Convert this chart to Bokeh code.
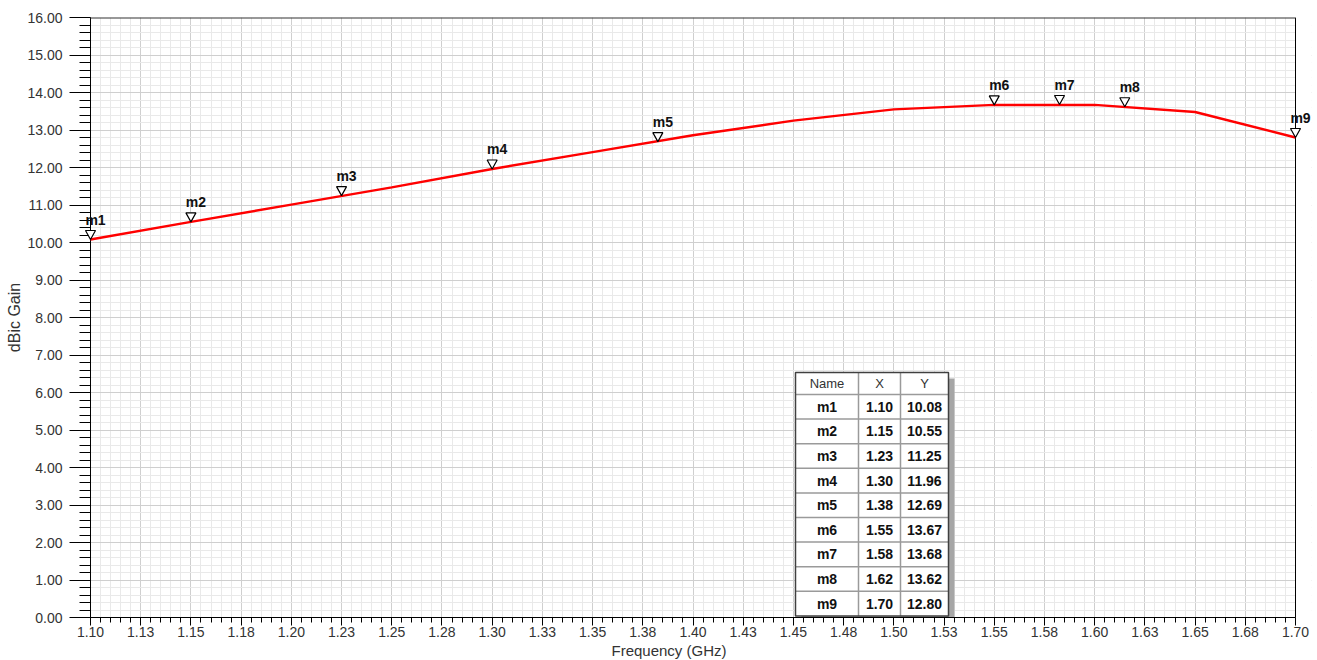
from bokeh.plotting import figure
from bokeh.models import Range1d, FixedTicker, Label, PolyAnnotation, Title
from bokeh.core.properties import value
from bokeh.embed import file_html
from bokeh.resources import INLINE

# ---- data ----
freq = [1.10, 1.15, 1.20, 1.25, 1.30, 1.35, 1.40, 1.45, 1.50, 1.55, 1.60, 1.65, 1.70]
gain = [10.08, 10.55, 11.01, 11.47, 11.96, 12.41, 12.86, 13.25, 13.55, 13.67, 13.67, 13.48, 12.80]

marker_names = ["m1", "m2", "m3", "m4", "m5", "m6", "m7", "m8", "m9"]
marker_x = [1.10, 1.15, 1.225, 1.30, 1.3825, 1.55, 1.5825, 1.615, 1.70]
marker_y = [10.08, 10.55, 11.25, 11.96, 12.69, 13.67, 13.68, 13.62, 12.80]
table_x = ["1.10", "1.15", "1.23", "1.30", "1.38", "1.55", "1.58", "1.62", "1.70"]
table_y = ["10.08", "10.55", "11.25", "11.96", "12.69", "13.67", "13.68", "13.62", "12.80"]

xtick_labels = ["1.10", "1.13", "1.15", "1.18", "1.20", "1.23", "1.25", "1.28", "1.30",
                "1.33", "1.35", "1.38", "1.40", "1.43", "1.45", "1.48", "1.50", "1.53",
                "1.55", "1.58", "1.60", "1.63", "1.65", "1.68", "1.70"]
ytick_labels = ["0.00", "1.00", "2.00", "3.00", "4.00", "5.00", "6.00", "7.00", "8.00",
                "9.00", "10.00", "11.00", "12.00", "13.00", "14.00", "15.00", "16.00"]
x_title = "Frequency (GHz)"
y_title = "dBic Gain"

X0, X1 = 1.10, 1.70
Y0, Y1 = 0.0, 16.0
FONT = "Liberation Sans"

# ---- layout (pixels) ----
W, H = 1317, 660
PLOT_L, PLOT_R = 90, 1295          # drawn plot box
PAD_L, PAD_R = 10, 16              # extra frame room so edge markers are not clipped
BT, BB = 17, 43
BL = PLOT_L - PAD_L
BR = W - (PLOT_R + PAD_R)
ppx = (PLOT_R - PLOT_L) / (X1 - X0)
ppy = (H - BT - BB) / (Y1 - Y0)
XS, XE = X0 - PAD_L / ppx, X1 + PAD_R / ppx

xticks = [round(X0 + 0.025 * i, 4) for i in range(len(xtick_labels))]
xminor = [round(X0 + 0.005 * i, 4) for i in range(121)]
yticks = [float(i) for i in range(len(ytick_labels))]
yminor = [round(0.2 * i, 2) for i in range(81)]

p = figure(width=W, height=H, x_range=Range1d(XS, XE), y_range=Range1d(Y0, Y1),
           output_backend="svg", toolbar_location=None,
           min_border_left=BL, min_border_right=BR, min_border_top=BT, min_border_bottom=BB)
p.background_fill_color = "white"
p.border_fill_color = "white"
p.outline_line_color = None

# axes
p.xaxis.ticker = FixedTicker(ticks=xticks, minor_ticks=xminor)
p.xaxis.major_label_overrides = {t: l for t, l in zip(xticks, xtick_labels)}
p.xaxis.bounds = (X0, X1)
p.yaxis.ticker = FixedTicker(ticks=yticks, minor_ticks=yminor)
p.yaxis.major_label_overrides = {t: l for t, l in zip(yticks, ytick_labels)}

for ax in (p.xaxis[0], p.yaxis[0]):
    ax.axis_line_color = "black"
    ax.major_tick_line_color = "black"
    ax.minor_tick_line_color = "black"
    ax.major_label_text_font = FONT
    ax.major_label_text_font_size = "14px"
    ax.major_label_text_color = "#333333"

p.xaxis.major_tick_in = 0
p.xaxis.minor_tick_in = 0
p.xaxis.major_tick_out = 8
p.xaxis.minor_tick_out = 5
p.xaxis.major_label_standoff = 1

# y axis sits at the frame edge; ticks reach across the padding to the plot box
p.yaxis.axis_line_color = None
p.yaxis.major_tick_in = PAD_L
p.yaxis.major_tick_out = 11
p.yaxis.minor_tick_in = PAD_L
p.yaxis.minor_tick_out = 1
p.yaxis.major_label_standoff = 7

# axis titles
p.add_layout(Title(text=x_title, align="left", offset=531, standoff=0,
                   text_font=FONT, text_font_size="15px", text_font_style="normal",
                   text_color="#333333"), "below")
p.add_layout(Title(text=y_title, align="center", offset=-2, standoff=3,
                   text_font=FONT, text_font_size="16px", text_font_style="normal",
                   text_color="#333333"), "left")

# grid
for g in (p.xgrid[0], p.ygrid[0]):
    g.grid_line_color = "#cfcfcf"
    g.grid_line_width = 1
    g.minor_grid_line_color = "#e9e9e9"
    g.minor_grid_line_width = 1

# hide grid in the padding strips, then draw the plot box
p.quad(left=[XS, X1], right=[X0, XE], bottom=[Y0, Y0], top=[Y1, Y1],
       fill_color="white", line_color=None)
p.segment(x0=[X0, X1], x1=[X0, X1], y0=[Y0, Y0], y1=[Y1, Y1], line_color="black", line_width=1)
p.segment(x0=[X0], x1=[X1], y0=[Y1], y1=[Y1], line_color="#333333", line_width=2)

# curve
p.line(freq, gain, line_color="#ff0000", line_width=2.5)

# markers (triangles pointing down, tip on the curve) + labels
tri_w, tri_h = 5.0 / ppx, 9.0 / ppy
for name, mx, my in zip(marker_names, marker_x, marker_y):
    p.add_layout(PolyAnnotation(xs=[mx - tri_w, mx + tri_w, mx], ys=[my + tri_h, my + tri_h, my],
                                fill_color="white", fill_alpha=1.0,
                                line_color="black", line_alpha=1.0, line_width=1.2))
    p.add_layout(Label(x=mx, y=my, text=name, x_offset=5, y_offset=20,
                       text_align="center", text_baseline="alphabetic",
                       text_font=FONT, text_font_size="14px", text_font_style="bold",
                       text_color="#111111"))

# marker table (layout in plot-box pixels -> data units)
def fx(px):
    return X0 + px / ppx

def fy(py):
    return Y1 - py / ppy

T_L, T_T = 705, 355
col_w = [63, 42, 48]
head_h, row_h = 22, 24.6
col_edges = [T_L, T_L + col_w[0], T_L + col_w[0] + col_w[1], T_L + sum(col_w)]
row_edges = [T_T, T_T + head_h] + [T_T + head_h + row_h * (i + 1) for i in range(len(marker_names))]
T_R, T_B = col_edges[-1], row_edges[-1]

# shadow
p.quad(left=[fx(T_L + 6)], right=[fx(T_R + 6)], top=[fy(T_T + 6)], bottom=[fy(T_B + 6)],
       fill_color="#a6a6a6", line_color=None)
# body
p.quad(left=[fx(T_L)], right=[fx(T_R)], top=[fy(T_T)], bottom=[fy(T_B)],
       fill_color="white", line_color=None)
# inner lines
p.segment(x0=[fx(c) for c in col_edges[1:-1]], x1=[fx(c) for c in col_edges[1:-1]],
          y0=[fy(T_T)] * 2, y1=[fy(T_B)] * 2, line_color="#9a9a9a", line_width=1.5)
p.segment(x0=[fx(T_L)] * (len(row_edges) - 2), x1=[fx(T_R)] * (len(row_edges) - 2),
          y0=[fy(r) for r in row_edges[1:-1]], y1=[fy(r) for r in row_edges[1:-1]],
          line_color="#9a9a9a", line_width=1.5)
# outer border
p.quad(left=[fx(T_L)], right=[fx(T_R)], top=[fy(T_T)], bottom=[fy(T_B)],
       fill_color=None, line_color="#404040", line_width=1.5)

col_c = [fx((col_edges[i] + col_edges[i + 1]) / 2) for i in range(3)]
p.text(x=col_c, y=[fy(T_T + head_h / 2)] * 3, text=["Name", "X", "Y"],
       text_font=value(FONT), text_font_size="13px", text_color="#333333",
       text_align="center", text_baseline="middle")
row_c = [fy((row_edges[i + 1] + row_edges[i + 2]) / 2) for i in range(len(marker_names))]
for ci, col in enumerate([marker_names, table_x, table_y]):
    p.text(x=[col_c[ci]] * len(col), y=row_c, text=col,
           text_font=value(FONT), text_font_size="14px", text_font_style="bold",
           text_color="#111111", text_align="center", text_baseline="middle")

open("out.html", "w").write(file_html(p, INLINE))
